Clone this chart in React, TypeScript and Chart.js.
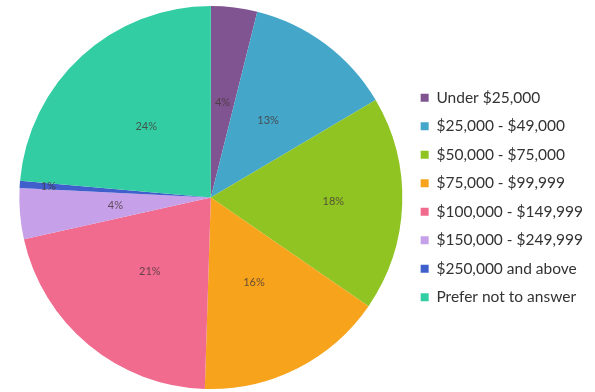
import { useEffect, useRef } from "react";
import { Chart, registerables } from "chart.js";

Chart.register(...registerables);

// Household income of respondents
const incomeBands = [
  "Under $25,000",
  "$25,000 - $49,000",
  "$50,000 - $75,000",
  "$75,000 - $99,999",
  "$100,000 - $149,999",
  "$150,000 - $249,999",
  "$250,000 and above",
  "Prefer not to answer",
];

const respondentShares = [3.9, 12.6, 18.1, 15.9, 21.0, 4.3, 0.6, 23.6];

const sliceColors = [
  "#7f5491",
  "#44a6c9",
  "#8fc423",
  "#f7a31c",
  "#f06b8e",
  "#c6a0e8",
  "#3f5fcc",
  "#33cda4",
];

// Percent labels sit halfway out; the narrow slices push theirs further out.
const labelRadiusFraction: Record<number, number> = { 2: 0.64, 6: 0.85 };

const percentLabels = {
  id: "percentLabels",
  afterDatasetsDraw(chart: Chart) {
    const { ctx } = chart;
    const meta = chart.getDatasetMeta(0);
    const values = chart.data.datasets[0].data as number[];
    const total = values.reduce((a, b) => a + b, 0);
    ctx.save();
    ctx.font = "11px Lato, 'Open Sans', sans-serif";
    ctx.fillStyle = "rgba(70, 55, 55, 0.8)";
    ctx.textAlign = "center";
    ctx.textBaseline = "middle";
    meta.data.forEach((el: any, i: number) => {
      const { x, y, startAngle, endAngle, outerRadius } = el.getProps(
        ["x", "y", "startAngle", "endAngle", "outerRadius"],
        true
      );
      const mid = (startAngle + endAngle) / 2;
      const r = outerRadius * (labelRadiusFraction[i] ?? 0.5);
      const pct = Math.round((values[i] / total) * 100);
      ctx.fillText(`${pct}%`, x + Math.cos(mid) * r, y + Math.sin(mid) * r);
    });
    ctx.restore();
  },
};

export default function App() {
  const canvasRef = useRef<HTMLCanvasElement>(null);

  useEffect(() => {
    if (!canvasRef.current) return;
    const chart = new Chart(canvasRef.current, {
      type: "pie",
      data: {
        labels: incomeBands,
        datasets: [
          {
            data: respondentShares,
            backgroundColor: sliceColors,
            borderWidth: 0,
          },
        ],
      },
      options: {
        responsive: true,
        maintainAspectRatio: false,
        animation: false,
        layout: { padding: { top: 6, bottom: 3, left: 14, right: 2 } },
        plugins: {
          tooltip: { enabled: false },
          legend: {
            position: "right",
            labels: {
              boxWidth: 8,
              boxHeight: 8,
              padding: 13,
              color: "#333333",
              font: { family: "Lato, 'Open Sans', sans-serif", size: 15.5 },
            },
          },
        },
      },
      plugins: [percentLabels],
    });
    return () => chart.destroy();
  }, []);

  return (
    <div
      style={{
        position: "absolute",
        left: 0,
        top: 0,
        width: 595,
        height: 392,
        background: "#ffffff",
      }}
    >
      <canvas ref={canvasRef} />
    </div>
  );
}
